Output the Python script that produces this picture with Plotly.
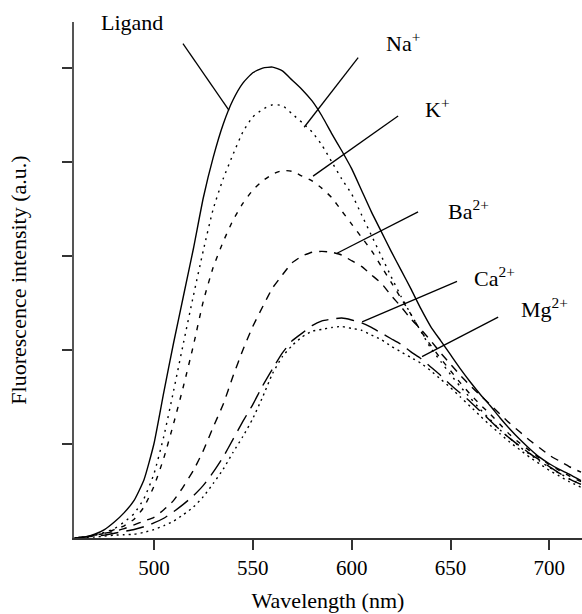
import plotly.graph_objects as go

# Wavelength grid (nm)
wavelength = [460, 465, 470, 475, 480, 485, 490, 495, 500, 505, 510, 515, 520, 525, 530, 535,
              540, 545, 550, 555, 560, 565, 570, 575, 580, 585, 590, 595, 600, 605, 610, 615,
              620, 625, 630, 635, 640, 645, 650, 655, 660, 665, 670, 675, 680, 685, 690, 695,
              700, 705, 710, 716]

ligand = [0.00, 0.01, 0.04, 0.09, 0.17, 0.27, 0.40, 0.62, 1.00, 1.55, 2.08, 2.58, 3.08, 3.62, 4.05, 4.40,
          4.66, 4.84, 4.95, 5.00, 5.01, 4.97, 4.87, 4.77, 4.65, 4.49, 4.30, 4.12, 3.93, 3.70, 3.47, 3.26,
          3.05, 2.85, 2.65, 2.44, 2.25, 2.10, 1.95, 1.80, 1.66, 1.53, 1.41, 1.28, 1.16, 1.05, 0.95, 0.86,
          0.79, 0.73, 0.68, 0.61]
na = [0.00, 0.01, 0.03, 0.06, 0.10, 0.17, 0.26, 0.42, 0.68, 1.08, 1.57, 2.08, 2.58, 3.06, 3.50, 3.82,
      4.08, 4.32, 4.48, 4.56, 4.61, 4.60, 4.51, 4.42, 4.32, 4.18, 4.00, 3.82, 3.66, 3.44, 3.22, 3.00,
      2.78, 2.57, 2.38, 2.20, 2.02, 1.88, 1.74, 1.61, 1.49, 1.37, 1.26, 1.15, 1.06, 0.97, 0.89, 0.82,
      0.75, 0.69, 0.63, 0.57]
k = [0.00, 0.01, 0.03, 0.05, 0.09, 0.13, 0.20, 0.33, 0.55, 0.85, 1.22, 1.62, 2.05, 2.52, 2.88, 3.15,
     3.38, 3.56, 3.70, 3.80, 3.87, 3.91, 3.90, 3.85, 3.80, 3.72, 3.62, 3.48, 3.34, 3.20, 3.06, 2.89,
     2.72, 2.55, 2.38, 2.20, 2.05, 1.91, 1.78, 1.65, 1.53, 1.42, 1.32, 1.21, 1.10, 1.01, 0.93, 0.85,
     0.78, 0.72, 0.66, 0.60]
ba = [0.00, 0.01, 0.03, 0.05, 0.07, 0.10, 0.14, 0.18, 0.22, 0.30, 0.40, 0.55, 0.72, 0.93, 1.18, 1.42,
      1.72, 2.00, 2.25, 2.46, 2.66, 2.80, 2.93, 3.00, 3.04, 3.05, 3.04, 3.01, 2.95, 2.89, 2.80, 2.71,
      2.58, 2.46, 2.33, 2.22, 2.10, 1.97, 1.85, 1.73, 1.62, 1.52, 1.42, 1.32, 1.22, 1.13, 1.04, 0.96,
      0.88, 0.82, 0.76, 0.70]
ca = [0.00, 0.01, 0.02, 0.03, 0.05, 0.07, 0.09, 0.12, 0.16, 0.21, 0.28, 0.36, 0.45, 0.56, 0.70, 0.86,
      1.05, 1.24, 1.42, 1.62, 1.80, 1.97, 2.10, 2.18, 2.26, 2.31, 2.33, 2.34, 2.32, 2.29, 2.24, 2.18,
      2.12, 2.06, 1.98, 1.91, 1.82, 1.73, 1.63, 1.54, 1.45, 1.35, 1.25, 1.15, 1.06, 0.98, 0.90, 0.83,
      0.76, 0.69, 0.63, 0.57]
mg = [0.00, 0.005, 0.01, 0.02, 0.03, 0.035, 0.04, 0.06, 0.09, 0.13, 0.18, 0.25, 0.33, 0.44, 0.58, 0.73,
      0.91, 1.08, 1.27, 1.50, 1.75, 1.93, 2.05, 2.14, 2.20, 2.22, 2.24, 2.25, 2.23, 2.21, 2.16, 2.11,
      2.04, 1.98, 1.92, 1.86, 1.78, 1.69, 1.60, 1.50, 1.40, 1.30, 1.20, 1.11, 1.02, 0.94, 0.86, 0.79,
      0.72, 0.66, 0.60, 0.54]

x_ticks = [500, 550, 600, 650, 700]
y_ticks = [1, 2, 3, 4, 5]

series = [
    ("Ligand", ligand, "solid"),
    ("Na+", na, "2px,5px"),
    ("K+", k, "5px,7px"),
    ("Ba2+", ba, "8px,7px"),
    ("Ca2+", ca, "18px,8px"),
    ("Mg2+", mg, "2px,4px"),
]

# label text, text anchor (x, y), leader line start (x, y), leader line end (x, y) in data units
labels = [
    ("Ligand", 472.2, 5.49, 514.7, 5.26, 538.0, 4.55),
    ("Na<sup>+</sup>", 616.4, 5.28, 603.3, 5.11, 576.0, 4.37),
    ("K<sup>+</sup>", 636.1, 4.57, 623.5, 4.49, 580.5, 3.85),
    ("Ba<sup>2+</sup>", 647.8, 3.49, 633.6, 3.47, 592.6, 3.03),
    ("Ca<sup>2+</sup>", 660.9, 2.78, 653.3, 2.73, 605.3, 2.30),
    ("Mg<sup>2+</sup>", 684.7, 2.45, 674.1, 2.35, 635.6, 1.93),
]

fig = go.Figure()
for name, vals, dash in series:
    fig.add_trace(go.Scatter(x=wavelength, y=vals, mode="lines", name=name,
                             line=dict(color="black", width=1.4, dash=dash, shape="spline", smoothing=0.5),
                             showlegend=False))

for text, tx, ty, x0, y0, x1, y1 in labels:
    fig.add_shape(type="line", xref="x", yref="y", x0=x0, y0=y0, x1=x1, y1=y1,
                  line=dict(color="black", width=1.3))
    fig.add_annotation(x=tx, y=ty, xref="x", yref="y", text=text, showarrow=False,
                       xanchor="left", yanchor="middle",
                       font=dict(family="Liberation Serif", size=22, color="black"))

font = dict(family="Liberation Serif", size=22, color="black")
tfont = dict(family="Liberation Serif", size=21, color="black")
fig.update_layout(
    width=582, height=614,
    margin=dict(l=74, r=0, t=22, b=76),
    plot_bgcolor="white", paper_bgcolor="white",
    font=font,
    xaxis=dict(range=[459.6, 716.5], tickvals=x_ticks, ticks="outside", ticklen=10, tickwidth=1.5,
               tickcolor="#333", showline=True, linecolor="#333", linewidth=1.5, showgrid=False,
               zeroline=False, title=dict(text="Wavelength (nm)", font=font, standoff=14),
               tickfont=tfont),
    yaxis=dict(range=[0, 5.49], tickvals=y_ticks, ticks="outside", ticklen=10, tickwidth=1.5,
               tickcolor="#333", showline=True, linecolor="#555", linewidth=1.5, showgrid=False,
               zeroline=False, showticklabels=False,
               title=dict(text="Fluorescence intensity (a.u.)", font=font, standoff=30)),
)

fig.write_html("out.html")
